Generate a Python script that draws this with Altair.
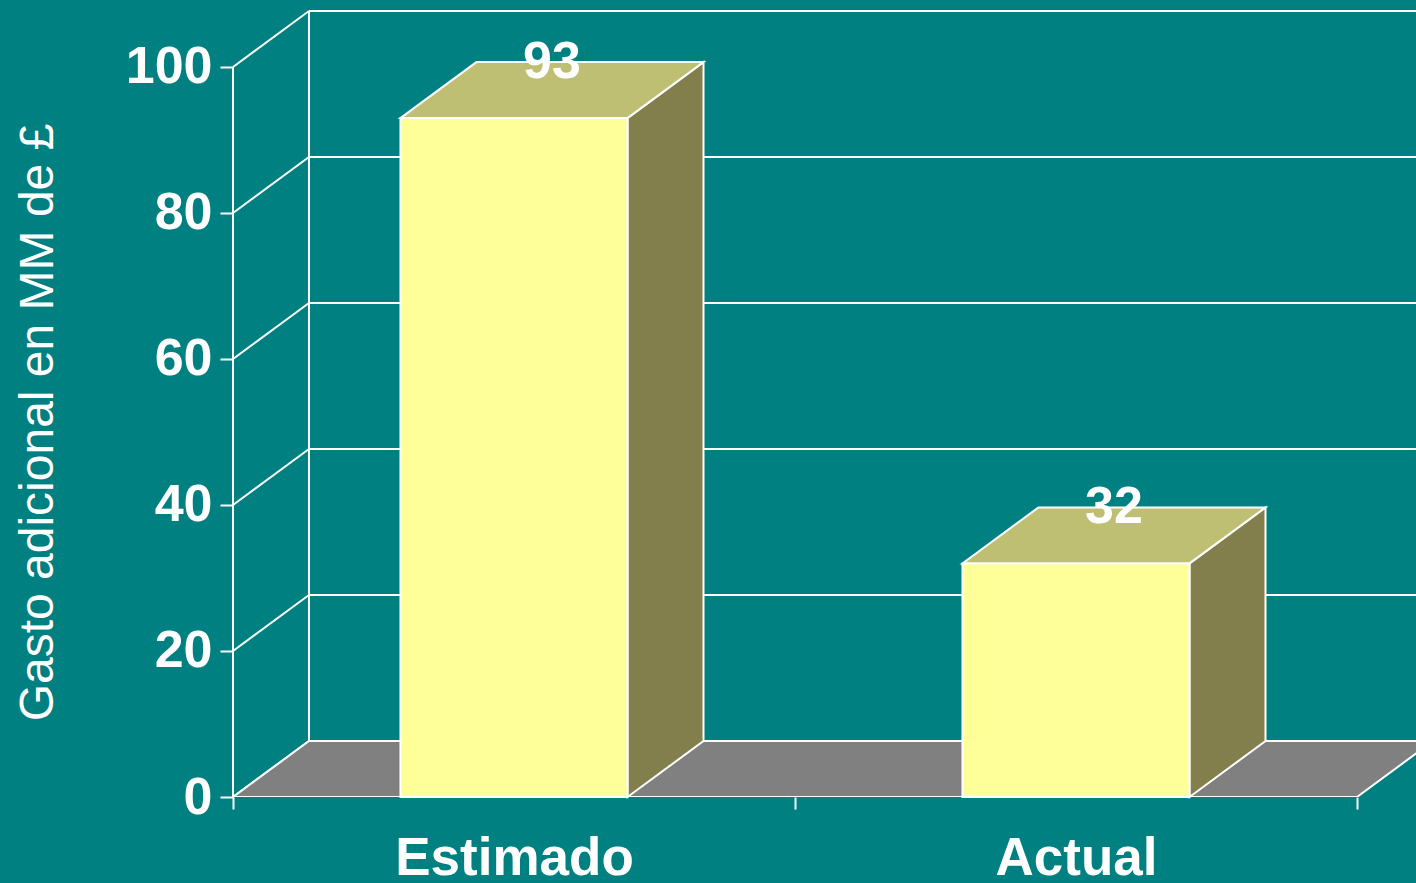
import altair as alt
import pandas as pd

# ---- data ----
categories = ["Estimado", "Actual"]
values = [93, 32]
y_ticks = [0, 20, 40, 60, 80, 100]
y_title = "Gasto adicional en MM de £"

# ---- 3D geometry (in scale units) ----
Y_MAX = 107.67     # top of back wall
X_MAX = 2.105      # right edge of plot
DX = 0.1352        # depth offset, x
DY = 7.67          # depth offset, y
HALF = 0.202       # half bar width
FONT = "Liberation Sans"
WHITE = "#ffffff"

xs = alt.Scale(domain=[0, X_MAX], nice=False, zero=False)
ys = alt.Scale(domain=[0, Y_MAX], nice=False, zero=False)

label_expr = " : ".join(
    [f"datum.value == {i + 0.5} ? '{c}'" for i, c in enumerate(categories)]
) + " : ''"

xaxis = alt.Axis(
    values=[0, 0.5, 1, 1.5, 2], labelExpr=label_expr, title=None,
    domain=False, grid=False, tickSize=12, tickColor=WHITE, tickWidth=2,
    tickOpacity={"condition": {"test": "datum.value % 1 != 0", "value": 0}, "value": 1},
    labelFont=FONT, labelFontSize=53, labelFontWeight="bold", labelColor=WHITE,
    labelPadding=23, labelOverlap=False, labelFlush=False, labelLimit=0,
)
yaxis = alt.Axis(
    values=y_ticks, title=y_title, domain=False, grid=False,
    tickSize=13, tickColor=WHITE, tickWidth=2,
    labelFont=FONT, labelFontSize=52, labelFontWeight="bold", labelColor=WHITE,
    labelPadding=8, labelOverlap=False, labelFlush=False, labelLimit=0,
    titleFont=FONT, titleFontSize=48, titleFontWeight="normal", titleColor=WHITE,
    titleAngle=270, titleX=-195, titleY=411, titleAlign="center", titleBaseline="middle",
    titleLimit=0,
)


def X(f):
    return alt.X(f, type="quantitative", scale=xs, axis=xaxis)


def Y(f):
    return alt.Y(f, type="quantitative", scale=ys, axis=yaxis, stack=None)


# ---- tables built from the data ----
grid_back = pd.DataFrame({"x0": [DX] * len(y_ticks), "x1": [X_MAX] * len(y_ticks),
                          "y": [t + DY for t in y_ticks]})
grid_diag = pd.DataFrame({"x0": [0.0] * len(y_ticks), "x1": [DX] * len(y_ticks),
                          "y0": y_ticks, "y1": [t + DY for t in y_ticks]})
back_vert = pd.DataFrame({"x": [DX], "y0": [DY], "y1": [Y_MAX]})
front_axis = pd.DataFrame({"x": [0.0], "y0": [0.0], "y1": [float(max(y_ticks))]})

n = len(categories)
floor = pd.DataFrame({"g": ["f"] * 4,
                      "x": [0.0, DX, float(n), n + DX],
                      "y0": [0.0, 0.0, 0.0, DY],
                      "y1": [0.0, DY, DY, DY]})

front_rows, top_rows, side_rows, lab_rows = [], [], [], []
for i, (c, v) in enumerate(zip(categories, values)):
    xl, xr = i + 0.5 - HALF, i + 0.5 + HALF
    front_rows.append({"cat": c, "xl": xl, "xr": xr, "y0": 0.0, "y1": v})
    top_rows += [
        {"cat": c, "x": xl, "y0": v, "y1": v},
        {"cat": c, "x": xl + DX, "y0": v, "y1": v + DY},
        {"cat": c, "x": xr, "y0": v, "y1": v + DY},
        {"cat": c, "x": xr + DX, "y0": v + DY, "y1": v + DY},
    ]
    side_rows += [
        {"cat": c, "x": xr, "y0": 0.0, "y1": v},
        {"cat": c, "x": xr + DX, "y0": DY, "y1": v + DY},
    ]
    lab_rows.append({"cat": c, "x": i + 0.5 + DX / 2, "y": v + DY, "t": str(v)})

front = pd.DataFrame(front_rows)
top = pd.DataFrame(top_rows)
side = pd.DataFrame(side_rows)
labels = pd.DataFrame(lab_rows)

# ---- layers ----
l_grid = alt.Chart(grid_back).mark_rule(color=WHITE, strokeWidth=2).encode(
    x=X("x0"), x2="x1", y=Y("y"))
l_diag = alt.Chart(grid_diag).mark_rule(color=WHITE, strokeWidth=2).encode(
    x=X("x0"), x2="x1", y=Y("y0"), y2="y1")
l_bvert = alt.Chart(back_vert).mark_rule(color=WHITE, strokeWidth=2).encode(
    x=X("x"), y=Y("y0"), y2="y1")
l_floor = alt.Chart(floor).mark_area(
    color="#808080", stroke=WHITE, strokeWidth=2, clip=True, interpolate="linear"
).encode(x=X("x"), y=Y("y0"), y2="y1", detail="g:N")
l_faxis = alt.Chart(front_axis).mark_rule(color=WHITE, strokeWidth=2).encode(
    x=X("x"), y=Y("y0"), y2="y1")
l_side = alt.Chart(side).mark_area(
    color="#827f4d", stroke=WHITE, strokeWidth=2, interpolate="linear"
).encode(x=X("x"), y=Y("y0"), y2="y1", detail="cat:N")
l_top = alt.Chart(top).mark_area(
    color="#bfbf73", stroke=WHITE, strokeWidth=2, interpolate="linear"
).encode(x=X("x"), y=Y("y0"), y2="y1", detail="cat:N")
l_front = alt.Chart(front).mark_rect(
    color="#ffff99", stroke=WHITE, strokeWidth=2
).encode(x=X("xl"), x2="xr", y=Y("y0"), y2="y1")
l_text = alt.Chart(labels).mark_text(
    font=FONT, fontSize=52, fontWeight="bold", color=WHITE,
    align="center", baseline="middle"
).encode(x=X("x"), y=Y("y"), text="t:N")

chart = alt.layer(
    l_grid, l_diag, l_bvert, l_floor, l_faxis, l_side, l_top, l_front, l_text
).properties(
    width=1183, height=786,
    autosize=alt.AutoSizeParams(type="none"),
    padding={"left": 233, "top": 11, "right": 0, "bottom": 86},
    background="#008080",
).configure_view(stroke=None)

chart.save("out.html", embed_options={"renderer": "svg", "actions": False})
